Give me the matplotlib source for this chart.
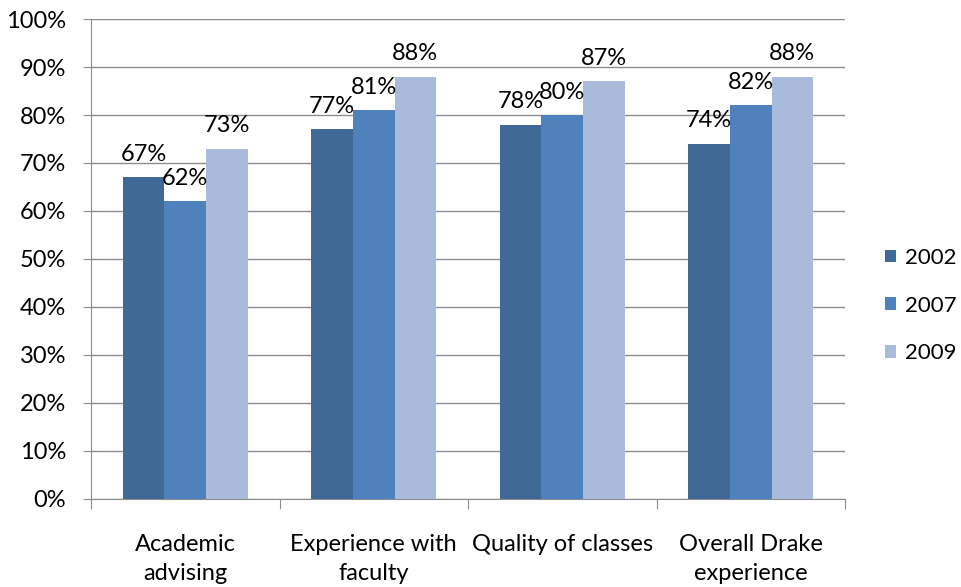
import matplotlib.pyplot as plt
import numpy as np

categories = ["Academic\nadvising", "Experience with\nfaculty", "Quality of classes", "Overall Drake\nexperience"]
years = ["2002", "2007", "2009"]
v2002 = [67, 77, 78, 74]
v2007 = [62, 81, 80, 82]
v2009 = [73, 88, 87, 88]
colors = ["#416998", "#4F81BD", "#A9BBDA"]

plt.rcParams['font.family'] = ['Lato', 'DejaVu Sans']
fs = 17

fig = plt.figure(figsize=(9.62, 5.87), dpi=100)
ax = fig.add_axes([0.0946, 0.150, 0.7838, 0.8176])

x = np.arange(len(categories))
w = 0.221
for i, (vals, yr) in enumerate(zip([v2002, v2007, v2009], years)):
    pos = x + (i - 1) * w
    ax.bar(pos, vals, w, color=colors[i], label=yr, zorder=3)
    for p, v in zip(pos, vals):
        ax.text(p, v + 2.6, f"{v}%", ha='center', va='bottom', fontsize=fs, zorder=4)

ax.set_xlim(-0.5, len(categories) - 0.5)
ax.set_ylim(0, 100)
ax.set_yticks(np.arange(0, 101, 10))
ax.set_yticklabels([f"{t}%" for t in range(0, 101, 10)], fontsize=fs)
ax.yaxis.grid(True, color='#8c8c8c', lw=1, zorder=0)

ax.set_xticks(np.arange(-0.5, len(categories), 1))
ax.set_xticklabels([])
ax.set_xticks(x, minor=True)
ax.set_xticklabels(categories, minor=True, fontsize=fs, linespacing=1.5)
ax.tick_params(axis='x', which='minor', length=0, pad=25)
ax.tick_params(axis='x', which='major', length=7, color='#8c8c8c', direction='out')
ax.tick_params(axis='y', length=6, color='#8c8c8c', pad=12)

for s in ['top', 'right']:
    ax.spines[s].set_visible(False)
for s in ['left', 'bottom']:
    ax.spines[s].set_color('#8c8c8c')

ax.legend(loc='center left', bbox_to_anchor=(1.026, 0.403), frameon=False, fontsize=16,
          handlelength=0.5, handleheight=0.5, handletextpad=0.4, labelspacing=1.25)

fig.savefig('out.png', dpi=100)
